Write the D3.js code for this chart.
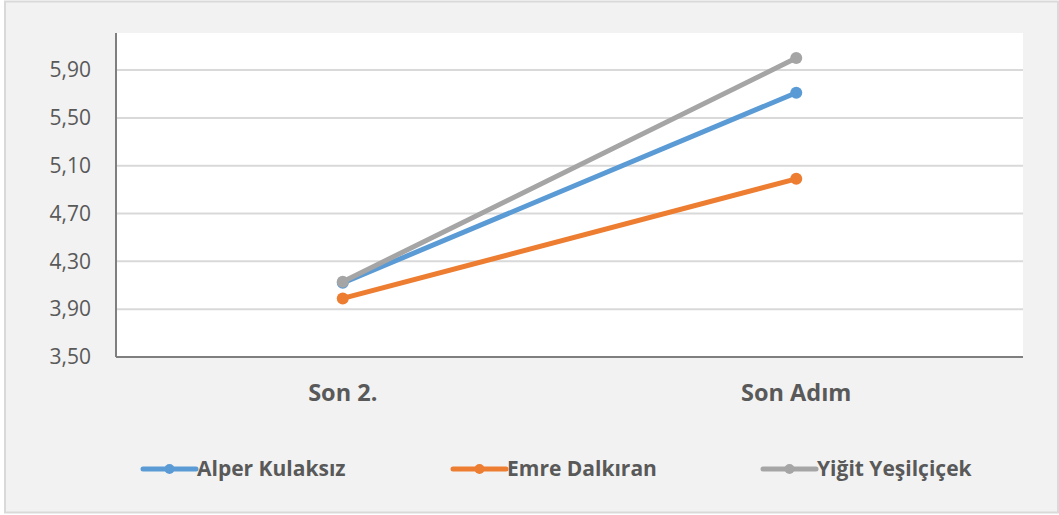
<!DOCTYPE html>
<html><head><meta charset="utf-8">
<script src="https://cdn.jsdelivr.net/npm/d3@7"></script>
<style>body{margin:0;background:#fff;}svg{display:block;}</style>
</head><body>
<svg id="c" width="1059" height="515"></svg>
<script>
const categories = ["Son 2.", "Son Adım"];
const seriesNames = ["Alper Kulaksız", "Emre Dalkıran", "Yiğit Yeşilçiçek"];
const alper = [4.12, 5.71];
const emre = [3.99, 4.99];
const yigit = [4.13, 6.00];
const yTicks = [3.5, 3.9, 4.3, 4.7, 5.1, 5.5, 5.9];
const colors = ["#5b9bd5", "#ed7d31", "#a5a5a5"];
const seriesValues = [alper, emre, yigit];

const svg = d3.select("#c");
const font = "'Open Sans', sans-serif";
svg.append("rect").attr("x",5).attr("y",1.5).attr("width",1053).attr("height",511)
  .attr("fill","#f2f2f2").attr("stroke","#d9d9d9").attr("stroke-width",2);

const L=116,R=1023,T=33,B=357;
svg.append("rect").attr("x",L).attr("y",T).attr("width",R-L).attr("height",B-T).attr("fill","#fff");

const x = d3.scaleBand().domain(categories).range([L,R]);
const y = d3.scaleLinear().domain([3.5, 6.21]).range([B,T]);

// gridlines
svg.append("g").selectAll("line").data(yTicks.slice(1)).join("line")
  .attr("x1",L).attr("x2",R).attr("y1",d=>y(d)).attr("y2",d=>y(d))
  .attr("stroke","#d9d9d9").attr("stroke-width",2);

// y axis
const ya = svg.append("g").attr("transform",`translate(${L},0)`)
  .call(d3.axisLeft(y).tickValues(yTicks).tickSize(0).tickPadding(25)
    .tickFormat(d=>d3.format(".2f")(d).replace(".",",")));
ya.select(".domain").remove();
ya.selectAll("text").attr("font-family",font).attr("font-size",21).attr("fill","#595959");
svg.append("line").attr("x1",L).attr("x2",L).attr("y1",T).attr("y2",B).attr("stroke","#7f7f7f").attr("stroke-width",2);

// x axis
const xa = svg.append("g").attr("transform",`translate(0,${B})`)
  .call(d3.axisBottom(x).tickSize(0).tickPadding(27));
xa.select(".domain").remove();
xa.selectAll("text").attr("font-family",font).attr("font-size",23.5).attr("font-weight","bold").attr("fill","#595959");
svg.append("line").attr("x1",L).attr("x2",R).attr("y1",B).attr("y2",B).attr("stroke","#7f7f7f").attr("stroke-width",2);

const line = d3.line().x((d,i)=>x(categories[i])+x.bandwidth()/2).y(d=>y(d));
seriesValues.forEach((vals,si)=>{
  const g = svg.append("g");
  g.append("path").attr("d",line(vals)).attr("fill","none").attr("stroke",colors[si])
    .attr("stroke-width",5).attr("stroke-linecap","round");
  g.selectAll("circle").data(vals).join("circle")
    .attr("cx",(d,i)=>x(categories[i])+x.bandwidth()/2).attr("cy",d=>y(d)).attr("r",6)
    .attr("fill",colors[si]);
});

// legend
const legX = [143, 453, 763];
const ly = 469;
seriesNames.forEach((n,i)=>{
  const g = svg.append("g");
  g.append("line").attr("x1",legX[i]).attr("x2",legX[i]+53).attr("y1",ly).attr("y2",ly)
    .attr("stroke",colors[i]).attr("stroke-width",5).attr("stroke-linecap","round");
  g.append("circle").attr("cx",legX[i]+26.5).attr("cy",ly).attr("r",5).attr("fill",colors[i]);
  g.append("text").attr("x",legX[i]+54).attr("y",ly).attr("dy","0.35em")
    .attr("font-family",font).attr("font-size",21).attr("font-weight","bold").attr("fill","#595959").text(n);
});
</script>
</body></html>
